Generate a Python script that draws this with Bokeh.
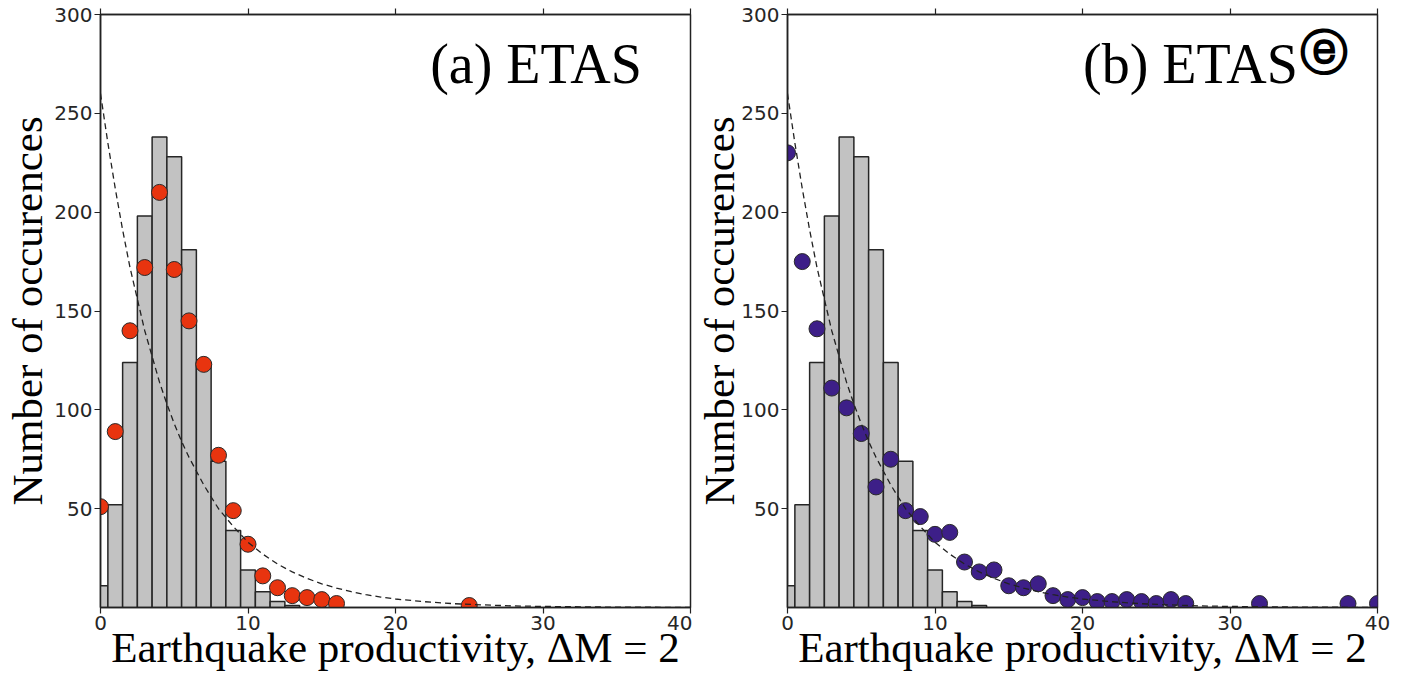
from bokeh.plotting import figure
from bokeh.models import Label, LinearAxis, Range1d, FixedTicker
from bokeh.layouts import row
from bokeh.embed import file_html
from bokeh.resources import INLINE

# ---- data ----
hist_bins = [0, 1, 2, 3, 4, 5, 6, 7, 8, 9, 10, 11, 12, 13]
hist_counts = [11, 52, 124, 198, 238, 228, 181, 124, 74, 39, 19, 8, 3, 1]

etas_x = [0, 1, 2, 3, 4, 5, 6, 7, 8, 9, 10, 11, 12, 13, 14, 15, 16, 25]
etas_y = [51, 89, 140, 172, 210, 171, 145, 123, 77, 49, 32, 16, 10, 6, 5, 4, 2, 1]

etase_x = [0, 1, 2, 3, 4, 5, 6, 7, 8, 9, 10, 11, 12, 13, 14, 15, 16, 17, 18, 19,
           20, 21, 22, 23, 24, 25, 26, 27, 32, 38, 40]
etase_y = [230, 175, 141, 111, 101, 88, 61, 75, 49, 46, 37, 38, 23, 18, 19, 11, 10, 12, 6, 4,
           5, 3, 3, 4, 3, 2, 4, 2, 2, 2, 2]

curve_x = [0, 0.5, 1, 1.5, 2, 2.5, 3, 3.5, 4, 4.5, 5, 5.5, 6, 7, 8, 9, 10, 11, 12, 13, 14,
           15, 16, 17, 18, 19, 20, 22, 24, 26, 28, 30, 33, 36, 40]
curve_y = [260, 235, 212, 191, 172, 156, 140, 127, 114, 103, 93, 84, 76, 62, 50, 41, 33, 27,
           22, 18, 14.7, 12, 9.8, 8, 6.5, 5.3, 4.3, 2.9, 1.9, 1.3, 0.8, 0.55, 0.3, 0.15, 0.07]

x_ticks = [0, 10, 20, 30, 40]
y_ticks = [50, 100, 150, 200, 250, 300]

xlabel = "Earthquake productivity, \u0394M = 2"
ylabel = "Number of occurences"

SERIF = "Liberation Serif"
SANS = "DejaVu Sans"
DARK = "#222222"


def make_panel(dx, dy, color, title, sup, width, border_left, border_right, ylab_standoff):
    p = figure(width=width, height=677, x_range=Range1d(0, 40), y_range=Range1d(0, 300),
               output_backend="svg", toolbar_location=None,
               min_border_left=border_left, min_border_right=border_right,
               min_border_top=14, min_border_bottom=70)
    p.grid.visible = False
    p.outline_line_color = DARK
    p.outline_line_width = 1.5
    p.outline_line_alpha = 1.0
    p.background_fill_color = "white"
    p.border_fill_color = "white"

    for ax in (p.xaxis[0], p.yaxis[0]):
        ax.axis_line_color = DARK
        ax.axis_line_width = 1.5
        ax.major_tick_line_color = DARK
        ax.major_tick_line_width = 1.2
        ax.major_tick_in = 0
        ax.major_tick_out = 6
        ax.minor_tick_line_color = None
        ax.major_label_text_font = SANS
        ax.major_label_text_font_size = "20px"
        ax.major_label_text_color = "#262626"
        ax.major_label_standoff = 2
        ax.axis_label_text_font = SERIF
        ax.axis_label_text_font_style = "normal"
        ax.axis_label_text_color = "black"
    p.xaxis[0].ticker = FixedTicker(ticks=x_ticks)
    p.yaxis[0].ticker = FixedTicker(ticks=y_ticks)

    p.xaxis[0].axis_label = xlabel
    p.xaxis[0].axis_label_text_font_size = "43px"
    p.xaxis[0].axis_label_standoff = -9
    p.yaxis[0].axis_label = ylabel
    p.yaxis[0].axis_label_text_font_size = "43px"
    p.yaxis[0].axis_label_standoff = ylab_standoff

    top = LinearAxis(ticker=FixedTicker(ticks=x_ticks))
    top.axis_line_color = DARK
    top.axis_line_width = 1.5
    top.major_tick_line_color = DARK
    top.major_tick_line_width = 1.2
    top.major_tick_in = 0
    top.major_tick_out = 6
    top.minor_tick_line_color = None
    top.major_label_text_font_size = "0px"
    top.major_label_text_color = None
    top.major_label_text_alpha = 0
    top.major_label_standoff = 0
    p.add_layout(top, "above")

    # histogram bars centred on integers
    p.quad(left=[b - 0.5 for b in hist_bins], right=[b + 0.5 for b in hist_bins],
           bottom=0, top=hist_counts, fill_color="#c2c2c2", line_color="#262626",
           line_width=1.5)

    p.scatter(dx, dy, size=16, fill_color=color, line_color="#2a2a2a", line_width=1)

    p.line(curve_x, curve_y, line_dash="6 4", line_color=DARK, line_width=1.3)

    p.add_layout(Label(x=36.7 if sup is None else 34.6, y=275, text=title,
                       text_align="right", text_baseline="middle", text_font=SERIF,
                       text_font_size="56px", text_color="black"))
    if sup is not None:
        p.add_layout(Label(x=34.75, y=281, text=sup, text_align="left",
                           text_baseline="middle", text_font=SANS, text_font_size="48px",
                           text_font_style="bold", text_color="black"))
    return p


p1 = make_panel(etas_x, etas_y, "#E8340F", "(a) ETAS", None, 692, 100, 2, 0)
p2 = make_panel(etase_x, etase_y, "#3D1F88", "(b) ETAS", "\u24d4", 705, 95, 20, -5)

layout = row(p1, p2)
open("out.html", "w").write(file_html(layout, INLINE))
